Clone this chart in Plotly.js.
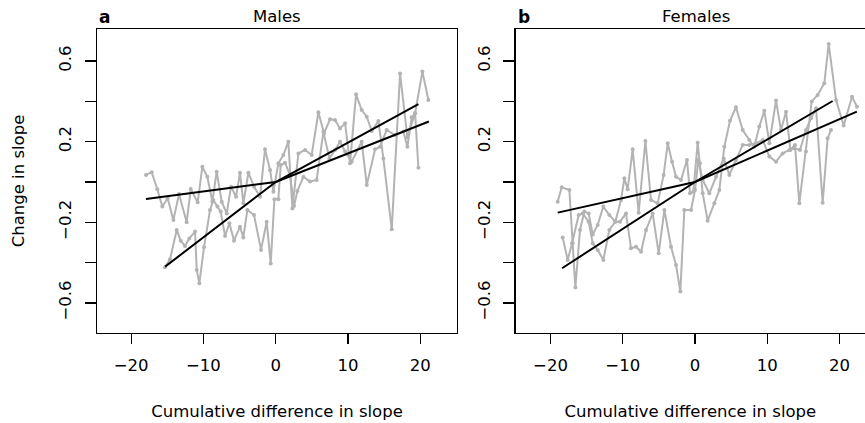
<!DOCTYPE html>
<html>
<head>
<meta charset="utf-8">
<script src="https://cdn.plot.ly/plotly-3.0.1.min.js"></script>
<style>html,body{margin:0;padding:0;background:#fff;}#chart{width:865px;height:423px;}</style>
</head>
<body>
<div id="chart"></div>
<script>
// ---- Males (panel a) ----
const malesAx = [-17.95,-17.16,-16.38,-15.69,-14.95,-14.16,-13.38,-12.32,-11.76,-10.80,-10.15,-9.46,-8.77,-8.17,-7.47,-6.78,-6.18,-5.49,-4.94,-4.48,-3.78,-3.00,-2.17,-1.48,-0.78,-0.32,0.37,1.06,1.75,2.31,3.14,4.06,4.98,5.91,6.69,7.52,8.21,8.90,9.60,10.29,11.12,11.90,12.60,13.29,14.21,14.90,16.06,17.21,18.22,19.29,20.30,21.13];
const malesAy = [0.035,0.048,-0.036,-0.122,-0.081,-0.189,-0.060,-0.200,-0.035,-0.101,0.076,0.026,-0.098,0.051,-0.098,-0.156,-0.023,-0.073,0.046,-0.106,0.046,-0.023,-0.073,0.162,0.060,-0.048,0.093,0.134,0.200,-0.131,0.142,0.159,0.134,0.346,0.242,0.311,0.308,0.266,0.291,0.093,0.435,0.357,0.324,0.253,0.303,0.117,-0.235,0.539,0.222,0.341,0.548,0.407];
const malesBx = [-15.32,-14.63,-13.70,-13.15,-12.55,-11.95,-11.16,-10.93,-10.57,-9.92,-9.09,-8.63,-8.07,-7.61,-7.01,-6.41,-5.77,-4.94,-4.48,-3.92,-3.00,-2.03,-1.25,-0.69,-0.18,0.37,0.69,1.29,1.98,2.54,3.00,3.83,4.75,5.67,6.60,7.43,8.21,8.90,9.60,10.52,11.90,12.60,13.75,14.44,15.36,16.52,17.67,18.22,18.82,19.29,19.75];
const malesBy = [-0.423,-0.384,-0.238,-0.291,-0.318,-0.280,-0.246,-0.437,-0.503,-0.324,-0.139,-0.089,-0.122,-0.147,-0.268,-0.205,-0.291,-0.222,-0.275,-0.139,-0.164,-0.337,-0.197,-0.404,-0.086,-0.086,0.084,0.096,0.035,-0.119,-0.045,0.026,0.002,0.010,0.250,0.117,0.159,0.200,0.151,0.101,0.200,-0.015,0.162,0.175,0.258,0.233,0.250,0.175,0.321,0.341,0.071];
const malesFitFlatX = [-17.95, 0, 21.2];
const malesFitFlatY = [-0.084, 0, 0.30];
const malesFitSteepX = [-15.3, 0, 19.75];
const malesFitSteepY = [-0.42, 0, 0.387];

// ---- Females (panel b) ----
const femalesAx = [-19.01,-18.45,-17.39,-16.93,-16.56,-15.92,-15.32,-14.72,-14.16,-13.47,-12.69,-11.86,-11.03,-10.24,-9.78,-9.32,-8.63,-7.80,-6.87,-6.09,-5.17,-4.34,-3.78,-3.18,-2.63,-1.94,-1.11,-0.69,-0.23,0.37,0.69,1.06,1.75,2.68,3.37,4.06,4.84,5.67,6.60,7.52,8.21,8.90,9.60,10.29,11.21,11.90,12.60,13.20,13.84,14.44,15.36,16.15,16.98,17.90,18.50,19.52,20.58,21.73,22.42];
const femalesAy = [-0.098,-0.026,-0.040,-0.304,-0.524,-0.238,-0.147,-0.156,-0.260,-0.213,-0.122,-0.164,-0.197,-0.089,0.018,-0.036,0.162,-0.152,0.203,-0.089,-0.106,0.035,0.192,0.101,0.026,0.010,0.109,-0.056,-0.048,0.195,0.093,-0.056,-0.192,-0.106,-0.040,0.175,0.304,0.371,0.258,0.208,0.175,0.275,0.354,0.192,0.404,0.258,0.349,0.159,0.184,-0.106,0.151,0.399,0.432,0.490,0.685,0.407,0.280,0.423,0.374];
const femalesBx = [-18.32,-17.62,-17.02,-16.10,-15.55,-14.72,-14.16,-13.47,-12.69,-11.86,-11.03,-10.38,-9.55,-8.86,-8.17,-7.47,-6.78,-5.86,-5.03,-4.24,-3.32,-2.63,-2.03,-1.48,-0.55,0.00,0.46,1.06,1.98,2.91,3.97,4.75,5.67,6.60,7.52,8.44,9.37,10.29,11.21,12.13,13.06,13.75,14.53,15.36,16.06,16.75,17.67,18.36,18.82];
const femalesBy = [-0.275,-0.387,-0.304,-0.164,-0.156,-0.197,-0.304,-0.337,-0.387,-0.238,-0.197,-0.197,-0.156,-0.329,-0.321,-0.346,-0.238,-0.156,-0.354,-0.139,-0.321,-0.412,-0.544,-0.139,-0.139,-0.040,0.109,0.010,-0.056,0.026,0.117,0.035,0.109,0.184,0.184,0.192,0.208,0.126,0.101,0.142,0.159,0.167,0.159,0.258,0.316,0.366,-0.103,0.217,0.258];
const femalesFitFlatX = [-19.0, 0, 22.4];
const femalesFitFlatY = [-0.152, 0, 0.349];
const femalesFitSteepX = [-18.4, 0, 19.05];
const femalesFitSteepY = [-0.428, 0, 0.402];

// ---- Tick labels ----
const xTickVals = [-20, -10, 0, 10, 20];
const xTickText = ['\u221220', '\u221210', '0', '10', '20'];
const yTickVals = [-0.6, -0.4, -0.2, 0, 0.2, 0.4, 0.6];
const yTickText = ['\u22120.6', '', '\u22120.2', '', '0.2', '', '0.6'];
const panelTitles = ['Males', 'Females'];
const panelLetters = ['a', 'b'];
const xTitle = 'Cumulative difference in slope';
const yTitle = 'Change in slope';

const GREY = '#b3b3b3';
const FONT = 'DejaVu Sans, Liberation Sans, Arial, sans-serif';

function grey(x, y, xa, ya) {
  return {x: x, y: y, xaxis: xa, yaxis: ya, type: 'scatter', mode: 'lines+markers',
    line: {color: GREY, width: 2}, marker: {color: GREY, size: 4}, hoverinfo: 'skip', showlegend: false};
}
function fit(x, y, xa, ya) {
  return {x: x, y: y, xaxis: xa, yaxis: ya, type: 'scatter', mode: 'lines',
    line: {color: '#000', width: 2}, hoverinfo: 'skip', showlegend: false};
}

const data = [
  grey(malesAx, malesAy, 'x', 'y'),
  grey(malesBx, malesBy, 'x', 'y'),
  fit(malesFitFlatX, malesFitFlatY, 'x', 'y'),
  fit(malesFitSteepX, malesFitSteepY, 'x', 'y'),
  grey(femalesAx, femalesAy, 'x2', 'y2'),
  grey(femalesBx, femalesBy, 'x2', 'y2'),
  fit(femalesFitFlatX, femalesFitFlatY, 'x2', 'y2'),
  fit(femalesFitSteepX, femalesFitSteepY, 'x2', 'y2')
];

const W = 865, H = 423;
const yDom = [1 - 333 / H, 1 - 29 / H];
function xAxis(domain, range, anchor) {
  return {domain: domain, range: range, anchor: anchor, showgrid: false, zeroline: false,
    showline: true, mirror: true, linecolor: '#000', linewidth: 1.3,
    ticks: 'outside', ticklen: 10, tickwidth: 1.3, tickcolor: '#000',
    tickvals: xTickVals, ticktext: xTickText, ticklabelstandoff: 7,
    tickfont: {family: FONT, size: 16.5, color: '#000'},
    title: {text: xTitle, font: {family: FONT, size: 16.5, color: '#000'}, standoff: 31},
    automargin: false, fixedrange: true};
}
function yAxis(anchor, mirror, withTitle) {
  const ax = {domain: yDom, range: [-0.7494, 0.7593], anchor: anchor, showgrid: false, zeroline: false,
    showline: true, mirror: mirror, linecolor: '#000', linewidth: 1.3,
    ticks: 'outside', ticklen: 11, tickwidth: 1.3, tickcolor: '#000',
    tickvals: yTickVals, ticktext: yTickText, tickangle: -90, ticklabelstandoff: 7,
    tickfont: {family: FONT, size: 16.5, color: '#000'},
    automargin: false, fixedrange: true};
  if (withTitle) ax.title = {text: yTitle, font: {family: FONT, size: 16.5, color: '#000'}, standoff: 27};
  return ax;
}

const layout = {
  width: W, height: H,
  margin: {l: 0, r: 0, t: 0, b: 0},
  paper_bgcolor: '#fff', plot_bgcolor: '#fff',
  showlegend: false,
  xaxis: xAxis([97 / W, 457 / W], [-24.73, 25.09], 'y'),
  yaxis: yAxis('x', true, true),
  xaxis2: xAxis([515.7 / W, 1], [-24.82, 23.53], 'y2'),
  yaxis2: yAxis('x2', false, false),
  annotations: [
    {text: '<b>' + panelLetters[0] + '</b>', xref: 'paper', yref: 'paper', x: 97 / W, y: 1 - 17 / H,
      xanchor: 'left', yanchor: 'middle', showarrow: false, font: {family: FONT, size: 17, color: '#000'}},
    {text: panelTitles[0], xref: 'paper', yref: 'paper', x: 277 / W, y: 1 - 17 / H,
      xanchor: 'center', yanchor: 'middle', showarrow: false, font: {family: FONT, size: 16.5, color: '#000'}},
    {text: '<b>' + panelLetters[1] + '</b>', xref: 'paper', yref: 'paper', x: 515.7 / W, y: 1 - 17 / H,
      xanchor: 'left', yanchor: 'middle', showarrow: false, font: {family: FONT, size: 17, color: '#000'}},
    {text: panelTitles[1], xref: 'paper', yref: 'paper', x: 696 / W, y: 1 - 17 / H,
      xanchor: 'center', yanchor: 'middle', showarrow: false, font: {family: FONT, size: 16.5, color: '#000'}}
  ]
};

Plotly.newPlot('chart', data, layout, {displayModeBar: false, staticPlot: true});
</script>
</body>
</html>
